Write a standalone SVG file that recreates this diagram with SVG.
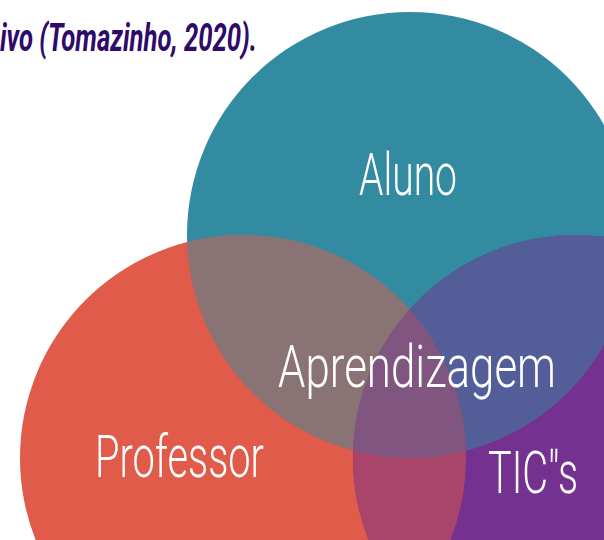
<svg xmlns="http://www.w3.org/2000/svg" width="604" height="540" viewBox="0 0 604 540">
<style>
.lbl{font-family:Roboto,"Liberation Sans",sans-serif;font-weight:300;font-size:59px;fill:#ffffff}
.cite{font-family:Roboto,"Liberation Sans",sans-serif;font-weight:700;font-style:italic;font-size:38px;fill:#2E0A6B}
</style>
<defs>
<clipPath id="cA"><circle cx="410" cy="235" r="223"/></clipPath>
<clipPath id="cP"><circle cx="243" cy="458" r="223"/></clipPath>
<clipPath id="cT"><circle cx="576" cy="458" r="223"/></clipPath>
</defs>
<rect width="604" height="540" fill="#ffffff"/>
<text class="cite" x="0" y="51" textLength="257" lengthAdjust="spacingAndGlyphs">ivo (Tomazinho, 2020).</text>
<g id="aluno">
<circle cx="410" cy="235" r="223" fill="#338BA2"/>
</g>
<g id="professor">
<circle cx="243" cy="458" r="223" fill="#E05B4A"/>
</g>
<g id="tics">
<circle cx="576" cy="458" r="223" fill="#74318F"/>
</g>
<g id="overlaps">
<circle cx="243" cy="458" r="223" fill="#8A7374" clip-path="url(#cA)"/>
<circle cx="576" cy="458" r="223" fill="#535E99" clip-path="url(#cA)"/>
<circle cx="576" cy="458" r="223" fill="#A9456A" clip-path="url(#cP)"/>
<g clip-path="url(#cA)"><circle cx="576" cy="458" r="223" fill="#80557F" clip-path="url(#cP)"/></g>
</g>
<g id="labels">
<text class="lbl" x="359" y="195" textLength="98" lengthAdjust="spacingAndGlyphs">Aluno</text>
<text class="lbl" x="278" y="387" textLength="278" lengthAdjust="spacingAndGlyphs">Aprendizagem</text>
<text class="lbl" x="95" y="477" textLength="169" lengthAdjust="spacingAndGlyphs">Professor</text>
<text class="lbl" x="488" y="493" textLength="90" lengthAdjust="spacingAndGlyphs">TIC"s</text>
</g>
</svg>
